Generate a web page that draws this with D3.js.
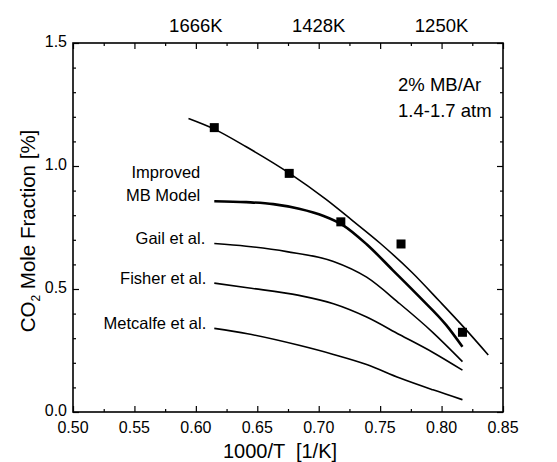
<!DOCTYPE html>
<html>
<head>
<meta charset="utf-8">
<script src="https://cdn.jsdelivr.net/npm/d3@7"></script>
<style>
  html, body { margin: 0; padding: 0; background: #fff; }
  svg { display: block; }
  text { font-family: "Liberation Sans", Arial, Helvetica, sans-serif; fill: #000; white-space: pre; }
</style>
</head>
<body>
<svg id="chart" width="557" height="462"></svg>
<script>
// Measured CO2 mole fraction (%) versus inverse temperature
const expX = [0.615, 0.676, 0.718, 0.767, 0.817];
const expY = [1.156, 0.970, 0.773, 0.683, 0.324];

// Model curves: [1000/T, CO2 %]
const fitCurve = [[0.594,1.193],[0.615,1.150],[0.641,1.078],[0.676,0.971],[0.706,0.864],[0.727,0.780],[0.750,0.686],[0.776,0.567],[0.798,0.452],[0.818,0.345],[0.838,0.232]];
const improvedMB = [[0.615,0.857],[0.641,0.853],[0.663,0.845],[0.684,0.826],[0.704,0.797],[0.719,0.762],[0.739,0.682],[0.760,0.578],[0.782,0.468],[0.804,0.352],[0.817,0.265]];
const gail = [[0.615,0.685],[0.641,0.674],[0.674,0.652],[0.712,0.612],[0.739,0.548],[0.766,0.440],[0.793,0.323],[0.817,0.205]];
const fisher = [[0.615,0.524],[0.642,0.505],[0.684,0.474],[0.712,0.440],[0.739,0.386],[0.766,0.314],[0.793,0.242],[0.817,0.170]];
const metcalfe = [[0.615,0.340],[0.642,0.318],[0.684,0.271],[0.712,0.234],[0.739,0.193],[0.766,0.138],[0.793,0.090],[0.817,0.050]];

// Axis ticks and labels
const xTicks = [0.50, 0.55, 0.60, 0.65, 0.70, 0.75, 0.80, 0.85];
const yTicks = [0.0, 0.5, 1.0, 1.5];
const topTickValues = [0.60, 0.70, 0.80];
const topTickLabels = ["1666K", "1428K", "1250K"];
const curveLabels = [
  { lines: ["Improved", "MB Model"], y: 0.857, gap: 14 },
  { lines: ["Gail et al."], y: 0.685, gap: 9 },
  { lines: ["Fisher et al."], y: 0.524, gap: 8 },
  { lines: ["Metcalfe et al."], y: 0.340, gap: 8 }
];
const noteLines = ["2% MB/Ar", "1.4-1.7 atm"];

const svg = d3.select("#chart");
const m = { left: 73, right: 503, top: 43, bottom: 412 };

const x = d3.scaleLinear().domain([0.50, 0.85]).range([m.left, m.right]);
const y = d3.scaleLinear().domain([0, 1.5]).range([m.bottom, m.top]);

const tickFont = 16;

// Inward ticks on all four sides
const xMinor = d3.range(0.5, 0.8501, 0.025);
const yMinor = d3.range(0, 1.5001, 0.1);
const isMajorX = v => Math.abs(v * 20 - Math.round(v * 20)) < 1e-6;
const isMajorY = v => Math.abs(v * 2 - Math.round(v * 2)) < 1e-6;

const bottomAxis = d3.axisBottom(x).tickValues(xMinor).tickSizeOuter(0).tickFormat("");
const topAxis = d3.axisTop(x).tickValues(xMinor).tickSizeOuter(0).tickFormat("");
const leftAxis = d3.axisLeft(y).tickValues(yMinor).tickSizeOuter(0).tickFormat("");
const rightAxis = d3.axisRight(y).tickValues(yMinor).tickSizeOuter(0).tickFormat("");

function styleAxis(g, majorTest, horizontal, sign) {
  g.select(".domain").remove();
  g.selectAll(".tick line")
    .attr("stroke", "#000")
    .attr("stroke-width", 1.2)
    .each(function(d) {
      const len = majorTest(d) ? 6 : 3;
      if (horizontal) d3.select(this).attr("y2", sign * len);
      else d3.select(this).attr("x2", sign * len);
    });
}

svg.append("g").attr("transform", `translate(0,${m.bottom})`).call(bottomAxis)
  .call(g => styleAxis(g, isMajorX, true, -1));
svg.append("g").attr("transform", `translate(0,${m.top})`).call(topAxis)
  .call(g => styleAxis(g, isMajorX, true, 1));
svg.append("g").attr("transform", `translate(${m.left},0)`).call(leftAxis)
  .call(g => styleAxis(g, isMajorY, false, 1));
svg.append("g").attr("transform", `translate(${m.right},0)`).call(rightAxis)
  .call(g => styleAxis(g, isMajorY, false, -1));

// Frame
svg.append("rect")
  .attr("x", m.left).attr("y", m.top)
  .attr("width", m.right - m.left).attr("height", m.bottom - m.top)
  .attr("fill", "none").attr("stroke", "#000").attr("stroke-width", 1.6);

// Tick labels
svg.append("g").selectAll("text").data(xTicks).join("text")
  .attr("x", d => x(d)).attr("y", m.bottom + 21)
  .attr("text-anchor", "middle").attr("font-size", tickFont)
  .text(d => d.toFixed(2));

svg.append("g").selectAll("text").data(yTicks).join("text")
  .attr("x", m.left - 6).attr("y", d => y(d) + 4)
  .attr("text-anchor", "end").attr("font-size", tickFont)
  .text(d => d.toFixed(1));

svg.append("g").selectAll("text").data(topTickValues).join("text")
  .attr("x", d => x(d)).attr("y", m.top - 11)
  .attr("text-anchor", "middle").attr("font-size", 18.5)
  .text((d, i) => topTickLabels[i]);

// Axis titles
svg.append("text")
  .attr("x", 280).attr("y", m.bottom + 46)
  .attr("text-anchor", "middle").attr("font-size", 20)
  .text("1000/T  [1/K]");

const yTitle = svg.append("text")
  .attr("transform", `translate(35,231) rotate(-90)`)
  .attr("text-anchor", "middle").attr("font-size", 20.5);
yTitle.append("tspan").text("CO");
yTitle.append("tspan").attr("font-size", 12).attr("dy", 5).text("2");
yTitle.append("tspan").attr("dy", -5).text(" Mole Fraction [%]");

// Curves
const line = d3.line().x(d => x(d[0])).y(d => y(d[1])).curve(d3.curveMonotoneX);
const curves = [
  { data: fitCurve, w: 1.6 },
  { data: improvedMB, w: 2.6 },
  { data: gail, w: 1.6 },
  { data: fisher, w: 1.6 },
  { data: metcalfe, w: 1.6 }
];
svg.append("g").selectAll("path").data(curves).join("path")
  .attr("d", d => line(d.data))
  .attr("fill", "none").attr("stroke", "#000")
  .attr("stroke-width", d => d.w);

// Measurements
const sq = 9;
svg.append("g").selectAll("rect").data(expX).join("rect")
  .attr("x", d => x(d) - sq / 2)
  .attr("y", (d, i) => y(expY[i]) - sq / 2)
  .attr("width", sq).attr("height", sq).attr("fill", "#000");

// Curve labels
const lblG = svg.append("g");
curveLabels.forEach(c => {
  const n = c.lines.length;
  const base = n > 1 ? 0 : 1;
  c.lines.forEach((t, i) => {
    lblG.append("text")
      .attr("x", x(0.615) - c.gap)
      .attr("y", y(c.y) + base - (n - 1 - i) * 23)
      .attr("text-anchor", "end").attr("font-size", 16.5)
      .text(t);
  });
});

// Conditions note
svg.append("g").selectAll("text").data(noteLines).join("text")
  .attr("x", 398).attr("y", (d, i) => 90.5 + i * 26)
  .attr("font-size", 18.5)
  .text(d => d);
</script>
</body>
</html>
